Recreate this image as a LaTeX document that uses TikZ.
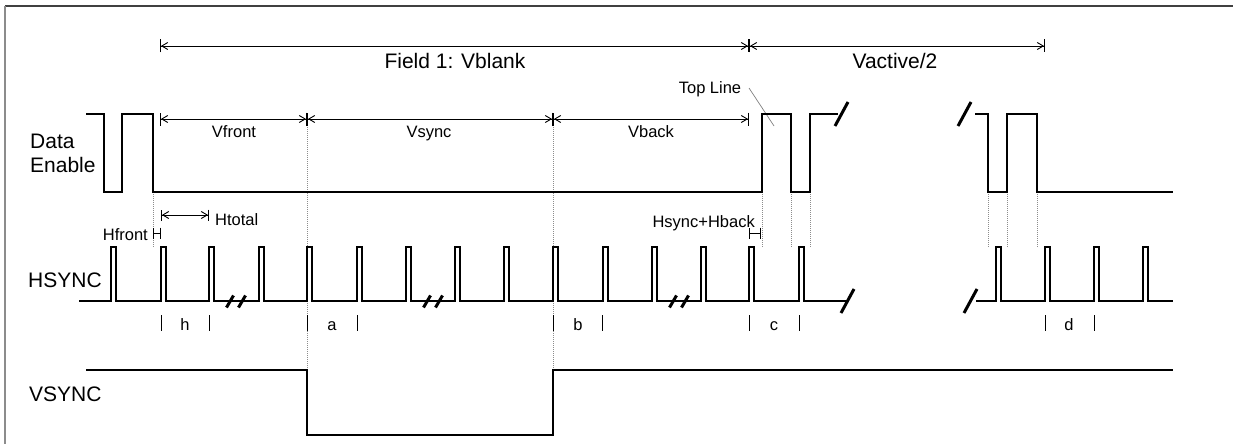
\documentclass[tikz,border=0pt]{standalone}
\usepackage{fontspec}
\setmainfont{Liberation Sans}
\usetikzlibrary{arrows.meta}
\begin{document}
\begin{tikzpicture}[x=1pt,y=-1pt,
  every node/.style={inner sep=0pt},
  wave/.style={line width=1.4pt,black,line join=miter},
  guide/.style={black!45,line width=0.8pt,dash pattern=on 1pt off 1pt},
  brk/.style={line width=3pt,black},
  big/.style={font=\fontsize{21}{24}\selectfont},
  small/.style={font=\fontsize{16.5}{19}\selectfont},
  dimA/.style={line width=0.9pt,{Bar[width=13pt]Straight Barb[length=6pt,width=7pt]}-{Straight Barb[length=6pt,width=7pt]Bar[width=13pt]}},
  dimB/.style={line width=0.9pt,{Bar[width=11pt]Straight Barb[length=6pt,width=7pt]}-{Straight Barb[length=6pt,width=7pt]Bar[width=11pt]}},
  dimC/.style={line width=0.9pt,{Bar[width=11pt]}-{Bar[width=11pt]}},
  tickmark/.style={line width=1pt,black},
  leader/.style={black!50,line width=0.7pt}
]
\useasboundingbox (0,0) rectangle (1233,444);
% frame
\draw[black!75,line width=1.5pt] (5,6) -- (1233,6);
\draw[black!45,line width=1.5pt] (5,6) -- (5,444);

% signal labels
\node[big,anchor=base west] (de1) at (30,148) {Data};
\node[big,anchor=base west] (de2) at (30,172) {Enable};
\node[big,anchor=base west] (hs) at (28,287) {HSYNC};
\node[big,anchor=base west] (vs) at (29,401) {VSYNC};

% guides
\foreach \gx in {153,762,791,810,988,1007,1037}
  \draw[guide] (\gx,192) -- (\gx,247);
\draw[guide] (307,121) -- (307,370);
\draw[guide] (553,121) -- (553,370);

% dimension lines
\coordinate (f0) at (160,46);
\coordinate (f1) at (749,46);
\coordinate (f2) at (1045,46);
\draw[dimA] (f0) -- (f1);
\draw[dimA] (f1) -- (f2);
\node[big,anchor=base] (fl) at (455,68) {Field 1: Vblank};
\node[big,anchor=base] (val) at (895,68) {Vactive/2};

\coordinate (v0) at (160,119);
\coordinate (v1) at (307,119);
\coordinate (v2) at (553,119);
\coordinate (v3) at (749,119);
\draw[dimA] (v0) -- (v1);
\draw[dimA] (v1) -- (v2);
\draw[dimA] (v2) -- (v3);
\node[small,anchor=base] (vfl) at (234,137) {Vfront};
\node[small,anchor=base] (vsl) at (429,137) {Vsync};
\node[small,anchor=base] (vbl) at (651,137) {Vback};

\node[small,anchor=base] (tl) at (710,93) {Top Line};
\coordinate (tlp) at (774,126);
\draw[leader] (749,88) -- (tlp);

\coordinate (h0) at (161,215);
\coordinate (h1) at (209,215);
\draw[dimB] (h0) -- (h1);
\node[small,anchor=base west] (htl) at (215,225) {Htotal};

\coordinate (hf0) at (153,233);
\coordinate (hf1) at (161,233);
\draw[dimC] (hf0) -- (hf1);
\node[small,anchor=base east] (hfl) at (148,240) {Hfront};

\coordinate (hb0) at (749,233);
\coordinate (hb1) at (761,233);
\draw[dimC] (hb0) -- (hb1);
\node[small,anchor=base east] (hbl) at (755,227) {Hsync+Hback};

% Data Enable
\draw[wave] (86,114) -- (104,114) -- (104,192) -- (122,192) -- (122,114) -- (153,114)
  -- (153,192) -- (762,192) -- (762,114) -- (791,114) -- (791,192) -- (810,192)
  -- (810,114) -- (838,114);
\draw[wave] (975,114) -- (988,114) -- (988,192) -- (1007,192) -- (1007,114)
  -- (1037,114) -- (1037,192) -- (1173,192);
\draw[brk] (835,126) -- (848,102);
\draw[brk] (958,126) -- (971,102);

% HSYNC
\draw[wave] (79,301) foreach \p in {111,161,209,259,307,357,406,455,504,553,603,652,701,749,799}
  { -- (\p,301) -- (\p,247) -- (\p+5,247) -- (\p+5,301) } -- (846,301);
\draw[wave] (976,301) foreach \p in {996,1045,1094,1143}
  { -- (\p,301) -- (\p,247) -- (\p+5,247) -- (\p+5,301) } -- (1173,301);
\draw[brk] (841,313) -- (854,289);
\draw[brk] (964,313) -- (977,289);
\foreach \sx in {230,242,427,439,673,685}
  \draw[brk] (\sx-3.5,307.5) -- (\sx+3.5,295.5);

% tick marks and labels
\foreach \tx in {161,209,307,357,553,602,749,799,1045,1094}
  \draw[tickmark] (\tx,315) -- (\tx,331);
\node[small,anchor=base] (lh) at (185,330) {h};
\node[small,anchor=base] (la) at (332,330) {a};
\node[small,anchor=base] (lb) at (578,330) {b};
\node[small,anchor=base] (lc) at (774,330) {c};
\node[small,anchor=base] (ld) at (1069,330) {d};

% VSYNC
\draw[wave] (86,370) -- (307,370) -- (307,435) -- (553,435) -- (553,370) -- (1173,370);
\end{tikzpicture}
\end{document}
